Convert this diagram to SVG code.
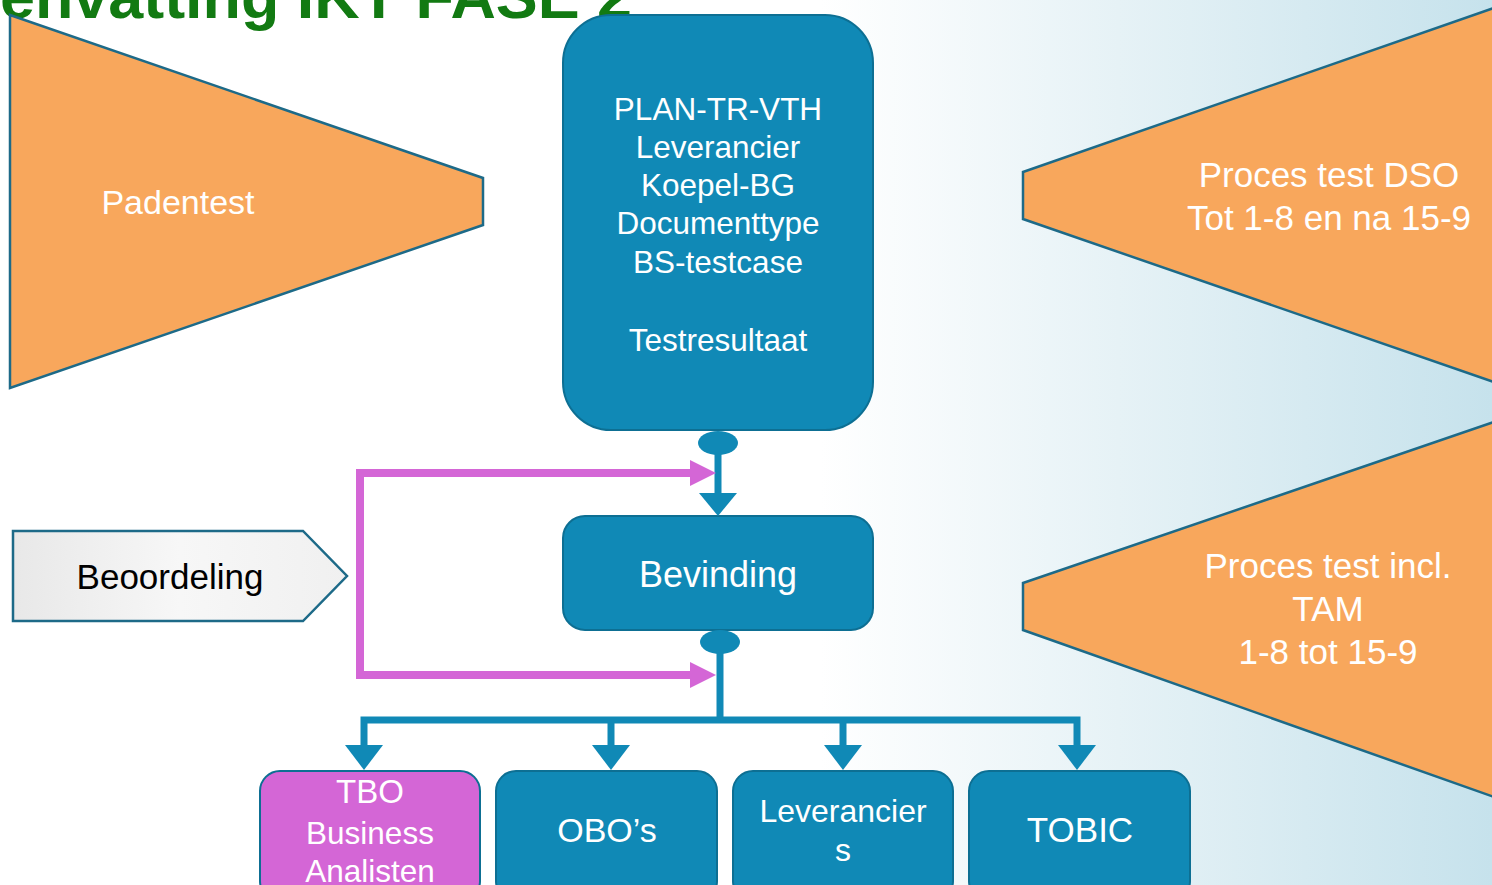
<svg xmlns="http://www.w3.org/2000/svg" width="1492" height="885" viewBox="0 0 1492 885">
<defs>
<linearGradient id="bg" x1="0" y1="0" x2="1" y2="0">
<stop offset="0" stop-color="#ffffff"/>
<stop offset="0.55" stop-color="#ffffff"/>
<stop offset="0.75" stop-color="#e6f2f6"/>
<stop offset="1" stop-color="#c6e2ec"/>
</linearGradient>
<linearGradient id="gray" x1="0" y1="0" x2="1" y2="0">
<stop offset="0" stop-color="#e8e8e8"/>
<stop offset="0.5" stop-color="#f7f7f7"/>
<stop offset="1" stop-color="#f0f0f0"/>
</linearGradient>
<style>
.orange{fill:#f8a75c;stroke:#1d6a88;stroke-width:2.5}
.blue{fill:#1089b6;stroke:#0d6f93;stroke-width:2}
.mag{fill:#d466d6;stroke:#0d6f93;stroke-width:2}
.wt{font-family:"Liberation Sans",Arial,sans-serif;fill:#ffffff;text-anchor:middle}
.bt{font-family:"Liberation Sans",Arial,sans-serif;fill:#000000;text-anchor:middle}
.bl{stroke:#1089b6;stroke-width:7;fill:none}
.ml{stroke:#d466d6;stroke-width:8;fill:none}
</style>
</defs>
<rect width="1492" height="885" fill="url(#bg)"/>
<text x="0" y="18" font-family="Liberation Sans,Arial,sans-serif" font-weight="bold" font-size="62" fill="#127a12" textLength="632" lengthAdjust="spacingAndGlyphs">envatting IKT FASE 2</text>

<g id="padentest">
<polygon class="orange" points="10,15 483,178 483,225 10,388"/>
<text class="wt" x="178" y="214" font-size="34">Padentest</text>
</g>

<g id="proces-dso">
<polygon class="orange" points="1023,172 1494,8 1494,382 1023,219"/>
<text class="wt" x="1329" y="187" font-size="35">Proces test DSO</text>
<text class="wt" x="1329" y="230" font-size="35">Tot 1-8 en na 15-9</text>
</g>

<g id="proces-tam">
<polygon class="orange" points="1023,583 1494,422 1494,797 1023,630"/>
<text class="wt" x="1328" y="578" font-size="35">Proces test incl.</text>
<text class="wt" x="1328" y="621" font-size="35">TAM</text>
<text class="wt" x="1328" y="664" font-size="35">1-8 tot 15-9</text>
</g>

<g id="plan">
<rect class="blue" x="563" y="15" width="310" height="415" rx="48"/>
<text class="wt" x="718" y="120" font-size="31.5">PLAN-TR-VTH</text>
<text class="wt" x="718" y="158" font-size="31.5">Leverancier</text>
<text class="wt" x="718" y="196" font-size="31.5">Koepel-BG</text>
<text class="wt" x="718" y="234" font-size="31.5">Documenttype</text>
<text class="wt" x="718" y="273" font-size="31.5">BS-testcase</text>
<text class="wt" x="718" y="351" font-size="31.5">Testresultaat</text>
</g>

<g id="bevinding">
<rect class="blue" x="563" y="516" width="310" height="114" rx="22"/>
<text class="wt" x="718" y="587" font-size="36">Bevinding</text>
</g>

<g id="beoordeling">
<polygon points="13,531 303,531 347,576 303,621 13,621" fill="url(#gray)" stroke="#1d6a88" stroke-width="2.5"/>
<text class="bt" x="170" y="589" font-size="35">Beoordeling</text>
</g>

<g id="tbo">
<rect class="mag" x="260" y="771" width="220" height="130" rx="20"/>
<text class="wt" x="370" y="803" font-size="33">TBO</text>
<text class="wt" x="370" y="844" font-size="31.5">Business</text>
<text class="wt" x="370" y="882" font-size="31.5">Analisten</text>
</g>

<g id="obos">
<rect class="blue" x="496" y="771" width="221" height="130" rx="20"/>
<text class="wt" x="607" y="842" font-size="34">OBO’s</text>
</g>

<g id="leveranciers">
<rect class="blue" x="733" y="771" width="220" height="130" rx="20"/>
<text class="wt" x="843" y="822" font-size="32">Leverancier</text>
<text class="wt" x="843" y="861" font-size="32">s</text>
</g>

<g id="tobic">
<rect class="blue" x="969" y="771" width="221" height="130" rx="20"/>
<text class="wt" x="1080" y="842" font-size="35">TOBIC</text>
</g>

<g id="connectors">
<ellipse cx="718" cy="443" rx="20" ry="12" fill="#1089b6"/>
<line class="bl" x1="718" y1="443" x2="718" y2="496"/>
<polygon points="699,493 737,493 718,516" fill="#1089b6"/>

<path class="ml" d="M360,473 H694 M360,469 V679 M360,675 H694"/>
<polygon points="690,460 716,473 690,486" fill="#d466d6"/>
<polygon points="690,662 716,675 690,688" fill="#d466d6"/>

<ellipse cx="720" cy="642" rx="20" ry="12" fill="#1089b6"/>
<line class="bl" x1="720" y1="642" x2="720" y2="722"/>
<path class="bl" d="M364,750 V720 H1077 V750 M611,720 V750 M843,720 V750"/>
<polygon points="345,745 383,745 364,770" fill="#1089b6"/>
<polygon points="592,745 630,745 611,770" fill="#1089b6"/>
<polygon points="824,745 862,745 843,770" fill="#1089b6"/>
<polygon points="1058,745 1096,745 1077,770" fill="#1089b6"/>
</g>
</svg>
